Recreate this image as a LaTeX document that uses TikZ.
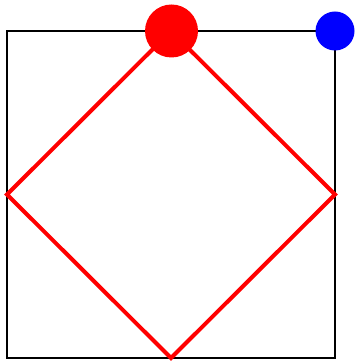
\documentclass[tikz,border=0pt]{standalone}
\begin{document}
\begin{tikzpicture}[x=1pt,y=1pt,
  frame/.style={draw=black,line width=2.6pt},
  diamondline/.style={draw=red,line width=4pt,line join=miter},
  dot/.style={circle,inner sep=0pt,draw=none}]
\useasboundingbox (0,0) rectangle (355,361);
\coordinate (sw) at (7,3);
\coordinate (ne) at (335,330);
\draw[frame] (sw) rectangle (ne);
\coordinate (t) at (171,330);
\coordinate (r) at (335,166.5);
\coordinate (b) at (171,3);
\coordinate (l) at (7,166.5);
\draw[diamondline] (t) -- (r) -- (b) -- (l) -- cycle;
\node[dot,fill=red,minimum size=53pt] (rc) at (171.5,330) {};
\node[dot,fill=blue,minimum size=39pt] (bc) at (335,330) {};
\end{tikzpicture}
\end{document}
